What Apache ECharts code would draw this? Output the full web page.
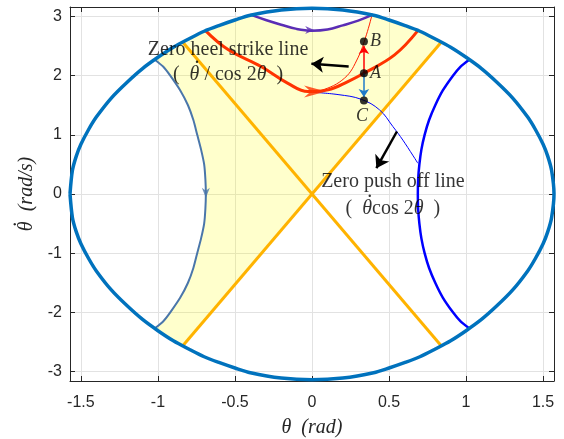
<!DOCTYPE html>
<html>
<head>
<meta charset="UTF-8">
<title>phase portrait</title>
<script src="https://cdn.jsdelivr.net/npm/echarts@6/dist/echarts.min.js"></script>
<style>
  * { margin: 0; padding: 0; }
  body { background: #fff; }
  #chart { width: 564px; height: 439px; }
</style>
</head>
<body>
<div id="chart"></div>
<script>
// tick values
const xTicks = [-1.5, -1, -0.5, 0, 0.5, 1, 1.5];
const yTicks = [-3, -2, -1, 0, 1, 2, 3];

// outer boundary (closed loop)
const boundary = [
  [-1.5708,0],[-1.555,0.40],[-1.53,0.64],[-1.50,0.84],[-1.45,1.09],[-1.40,1.30],[-1.30,1.63],
  [-1.20,1.89],[-1.10,2.12],[-1.00,2.31],[-0.90,2.48],[-0.80,2.62],[-0.70,2.75],[-0.60,2.85],
  [-0.50,2.94],[-0.40,3.02],[-0.20,3.11],[0,3.14],[0.20,3.11],[0.40,3.02],[0.50,2.94],
  [0.60,2.85],[0.70,2.75],[0.80,2.62],[0.90,2.48],[1.00,2.31],[1.10,2.12],[1.20,1.89],
  [1.30,1.63],[1.40,1.30],[1.45,1.09],[1.50,0.84],[1.53,0.64],[1.555,0.40],[1.5708,0],
  [1.555,-0.40],[1.53,-0.64],[1.50,-0.84],[1.45,-1.09],[1.40,-1.30],[1.30,-1.63],[1.20,-1.89],
  [1.10,-2.12],[1.00,-2.31],[0.90,-2.48],[0.80,-2.62],[0.70,-2.75],[0.60,-2.85],[0.50,-2.94],
  [0.40,-3.02],[0.20,-3.11],[0,-3.14],[-0.20,-3.11],[-0.40,-3.02],[-0.50,-2.94],[-0.60,-2.85],
  [-0.70,-2.75],[-0.80,-2.62],[-0.90,-2.48],[-1.00,-2.31],[-1.10,-2.12],[-1.20,-1.89],
  [-1.30,-1.63],[-1.40,-1.30],[-1.45,-1.09],[-1.50,-0.84],[-1.53,-0.64],[-1.555,-0.40],[-1.5708,0]
];

const lineUp = [[-0.84,-2.567],[0.84,2.567]];
const lineDown = [[-0.84,2.567],[0.84,-2.567]];

const purpleCurve = [[-0.40,3.03],[-0.3,2.94],[-0.2,2.86],[-0.1,2.79],[0,2.76],[0.1,2.78],[0.2,2.85],[0.3,2.93],[0.395,3.03]];
const heelCurve = [[-0.695,2.77],[-0.545,2.44],[-0.328,2.15],[-0.156,1.87],[-0.026,1.73],[0.104,1.76],[0.233,1.90],[0.337,2.04],[0.536,2.35],[0.687,2.76]];
const thinRed = [[0.0,1.73],[0.06,1.75],[0.212,1.96],[0.298,2.30],[0.353,2.69],[0.39,3.03]];
const thinBlue = [[0.0,1.72],[0.169,1.68],[0.32,1.60],[0.439,1.42],[0.525,1.14],[0.59,0.91],[0.687,0.52]];
const rightCurve = [[1.02,2.27],[0.963,2.15],[0.915,2],[0.849,1.75],[0.80,1.5],[0.76,1.25],[0.731,1],[0.71,0.75],[0.697,0.5],[0.689,0.25],[0.687,0],
  [0.689,-0.25],[0.697,-0.5],[0.71,-0.75],[0.731,-1],[0.76,-1.25],[0.80,-1.5],[0.849,-1.75],[0.915,-2],[0.963,-2.15],[1.02,-2.27]];
const leftCurve = [[-1.02,2.27],[-0.965,2.15],[-0.92,2],[-0.855,1.75],[-0.805,1.5],[-0.77,1.25],[-0.745,1],[-0.72,0.75],[-0.70,0.5],[-0.692,0.25],[-0.689,0],
  [-0.692,-0.25],[-0.70,-0.5],[-0.72,-0.75],[-0.745,-1],[-0.77,-1.25],[-0.805,-1.5],[-0.855,-1.75],[-0.92,-2],[-0.965,-2.15],[-1.02,-2.27]];

// shaded region outline
const fillRegion = [
  [-1.02,2.27],[-1.00,2.31],[-0.90,2.48],[-0.80,2.62],[-0.70,2.75],[-0.60,2.85],[-0.50,2.94],[-0.40,3.03],
  [-0.3,2.94],[-0.2,2.86],[-0.1,2.79],[0,2.76],[0.1,2.78],[0.2,2.85],[0.3,2.93],[0.395,3.03],
  [0.50,2.94],[0.60,2.85],[0.70,2.75],[0.80,2.62],[0.84,2.567],[0,0],[-0.84,-2.567],
  [-0.90,-2.48],[-1.00,-2.31],[-1.02,-2.27],[-0.965,-2.15],[-0.92,-2],[-0.855,-1.75],[-0.805,-1.5],
  [-0.77,-1.25],[-0.745,-1],[-0.72,-0.75],[-0.70,-0.5],[-0.689,0],[-0.70,0.5],[-0.72,0.75],
  [-0.745,1],[-0.77,1.25],[-0.805,1.5],[-0.855,1.75],[-0.92,2],[-0.965,2.15]
];

const pointsABC = [
  { name: 'A', value: [0.337, 2.04] },
  { name: 'B', value: [0.337, 2.576] },
  { name: 'C', value: [0.337, 1.58] }
];

const chevron = 'path://M0,0 L10,4 L0,8 L3,4 Z';
const serif = '"Liberation Serif", "DejaVu Serif", serif';
const sans = '"Liberation Sans", Arial, sans-serif';

const chart = echarts.init(document.getElementById('chart'));

const tickStyle = { inside: true, length: 5, lineStyle: { color: '#262626' } };
const axLine = { show: true, onZero: false, lineStyle: { color: '#262626', width: 1 } };

// rich styles: the dot of theta-dot sits on a thin line above the theta
const richText = {
  g: { fontFamily: serif, fontSize: 20, color: 'rgba(0,0,0,0)', align: 'left', lineHeight: 12 },
  dot: { fontFamily: serif, fontSize: 20, color: '#000', align: 'left', lineHeight: 12, padding: [0, 0, 0, 5] },
  n: { fontFamily: serif, fontSize: 20, color: '#000', align: 'left', lineHeight: 22 },
  it: { fontFamily: serif, fontSize: 20, fontStyle: 'italic', color: '#000', align: 'left', lineHeight: 22 }
};

chart.setOption({
  animation: false,
  grid: { left: 70, right: 10, top: 7, bottom: 58, containLabel: false, outerBoundsMode: 'none' },
  xAxis: [{
    type: 'value', min: -1.5708, max: 1.5708, position: 'bottom',
    axisLine: axLine,
    axisTick: Object.assign({ customValues: xTicks }, tickStyle),
    axisLabel: { customValues: xTicks, color: '#262626', fontSize: 16, margin: 14, fontFamily: sans },
    splitLine: { show: true, lineStyle: { color: '#e2e2e2', width: 1 } },
    name: 'θ  (rad)', nameLocation: 'middle', nameGap: 47,
    nameTextStyle: { fontFamily: serif, fontStyle: 'italic', fontSize: 20, color: '#262626', verticalAlign: 'middle' }
  }, {
    type: 'value', min: -1.5708, max: 1.5708, position: 'top',
    axisLine: axLine,
    axisTick: Object.assign({ customValues: xTicks }, tickStyle),
    axisLabel: { show: false }, splitLine: { show: false }
  }],
  yAxis: [{
    type: 'value', min: -3.16, max: 3.16, position: 'left',
    axisLine: axLine,
    axisTick: Object.assign({ customValues: yTicks }, tickStyle),
    axisLabel: { customValues: yTicks, color: '#262626', fontSize: 16, margin: 8, fontFamily: sans },
    splitLine: { show: true, lineStyle: { color: '#e2e2e2', width: 1 } },
    name: '{dot|.}\n{it|θ  (rad/s)}', nameLocation: 'middle', nameGap: 37, nameRotate: 90,
    nameTextStyle: {
      fontFamily: serif, fontStyle: 'italic', fontSize: 20, color: '#262626', verticalAlign: 'middle',
      rich: {
        dot: { fontFamily: serif, fontSize: 20, color: '#262626', align: 'left', lineHeight: 11, padding: [0, 0, 0, 5] },
        it: { fontFamily: serif, fontSize: 20, fontStyle: 'italic', color: '#262626', align: 'left', lineHeight: 22 }
      }
    }
  }, {
    type: 'value', min: -3.16, max: 3.16, position: 'right',
    axisLine: axLine,
    axisTick: Object.assign({ customValues: yTicks }, tickStyle),
    axisLabel: { show: false }, splitLine: { show: false }
  }],
  series: [
    {
      type: 'custom', z: 1, silent: true,
      data: [0],
      renderItem: function (params, api) {
        return {
          type: 'polygon',
          shape: { points: fillRegion.map(p => api.coord(p)), smooth: 0 },
          style: { fill: 'rgba(255,255,0,0.2)', stroke: null }
        };
      }
    },
    { type: 'line', data: lineUp, showSymbol: false, lineStyle: { color: '#FFB300', width: 3 }, z: 3 },
    { type: 'line', data: lineDown, showSymbol: false, lineStyle: { color: '#FFB300', width: 3 }, z: 3 },
    { type: 'line', data: leftCurve, smooth: 0.25, showSymbol: false, lineStyle: { color: '#4A76AA', width: 2 }, z: 3 },
    { type: 'line', data: rightCurve, smooth: 0.25, showSymbol: false, lineStyle: { color: '#0000FF', width: 2.5 }, z: 3 },
    { type: 'line', data: purpleCurve, smooth: 0.4, showSymbol: false, lineStyle: { color: '#5A2DB5', width: 2.5 }, z: 3 },
    { type: 'line', data: thinRed, smooth: 0.4, showSymbol: false, lineStyle: { color: '#FF2000', width: 1 }, z: 3 },
    { type: 'line', data: thinBlue, smooth: 0.4, showSymbol: false, lineStyle: { color: '#0000FF', width: 1 }, z: 3 },
    { type: 'line', data: heelCurve, smooth: 0.4, showSymbol: false, lineStyle: { color: '#FF3300', width: 3 }, z: 4 },
    { type: 'line', data: boundary, smooth: 0.3, showSymbol: false, lineStyle: { color: '#0072BD', width: 3.5 }, z: 5 },
    // arrowheads along the trajectories
    {
      type: 'scatter', z: 6, silent: true, symbol: chevron, symbolKeepAspect: false,
      data: [
        { value: [0.02, 1.73], symbolSize: [22, 12], itemStyle: { color: '#FF3300' } },
        { value: [-0.015, 2.77], symbolSize: [9, 8], itemStyle: { color: '#5A2DB5' } },
        { value: [-0.689, 0.02], symbolSize: [10, 8], symbolRotate: -90, itemStyle: { color: '#4A76AA' } }
      ]
    },
    // straight arrows
    {
      type: 'lines', coordinateSystem: 'cartesian2d', z: 7, silent: true,
      symbol: ['none', 'arrow'],
      data: [
        { coords: [[0.238, 2.155], [-0.004, 2.2]], symbolSize: 12, lineStyle: { color: '#000', width: 2.5 } },
        { coords: [[0.551, 1.056], [0.418, 0.437]], symbolSize: 12, lineStyle: { color: '#000', width: 2.5 } },
        { coords: [[0.337, 2.04], [0.337, 2.50]], symbolSize: 8, lineStyle: { color: '#FF0000', width: 1.5 } },
        { coords: [[0.337, 2.04], [0.337, 1.64]], symbolSize: 8, lineStyle: { color: '#1F7BC8', width: 1.5 } }
      ],
      lineStyle: { opacity: 1, curveness: 0 }
    },
    {
      type: 'scatter', z: 8, data: pointsABC, symbolSize: 8,
      itemStyle: { color: '#000' },
      label: {
        show: true, formatter: '{b}', fontFamily: serif, fontStyle: 'italic', fontSize: 18, color: '#000',
        position: 'right', distance: 2
      },
      labelLayout: function (p) {
        if (p.dataIndex === 2) return { dx: -14, dy: 16 };
        return {};
      }
    },
    // annotation texts
    {
      type: 'scatter', z: 9, symbolSize: 0, silent: true,
      label: {
        show: true, position: 'inside', color: '#000', fontFamily: serif, fontSize: 20,
        formatter: p => p.name,
        rich: richText
      },
      data: [
        { name: 'Zero heel strike line', value: [-0.545, 2.44] },
        { name: '{g|(  }{dot|.}\n{n|(  }{it|θ}{n| / cos 2}{it|θ}{n|  )}', value: [-0.545, 2.12] },
        { name: 'Zero push off line', value: [0.525, 0.21] },
        { name: '{g|(  }{dot|.}\n{n|(  }{it|θ}{n|cos 2}{it|θ}{n|  )}', value: [0.525, -0.15] }
      ]
    }
  ]
});
</script>
</body>
</html>
